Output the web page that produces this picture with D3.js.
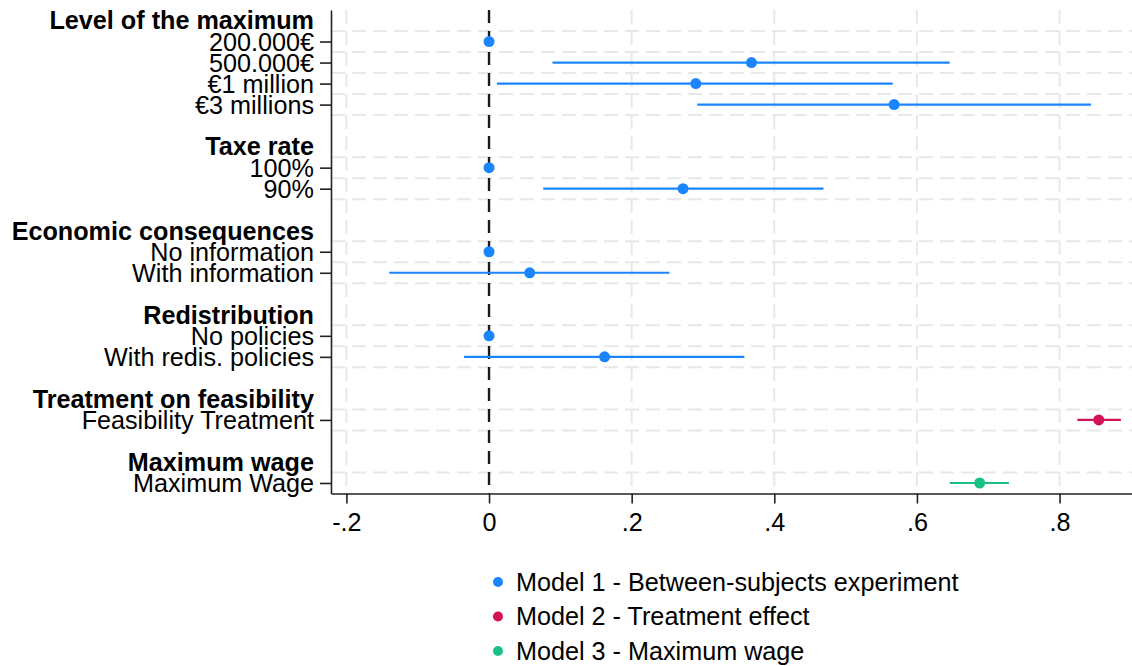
<!DOCTYPE html>
<html>
<head>
<meta charset="utf-8">
<title>Coefficient plot</title>
<script src="https://d3js.org/d3.v7.min.js"></script>
<style>
  body { margin: 0; background: #fff; }
  text { font-family: "Liberation Sans", Arial, sans-serif; fill: #000; }
  .grid line { stroke: #e8e8e8; stroke-width: 2; stroke-dasharray: 14 7; }
  .axis path, .axis line { stroke: #222; stroke-width: 1.6; }
</style>
</head>
<body>
<script>
// group headers and the coefficients listed under each one
var headers = ["Level of the maximum", "Taxe rate", "Economic consequences",
               "Redistribution", "Treatment on feasibility", "Maximum wage"];
var groupItems = [
  ["200.000€", "500.000€", "€1 million", "€3 millions"],
  ["100%", "90%"],
  ["No information", "With information"],
  ["No policies", "With redis. policies"],
  ["Feasibility Treatment"],
  ["Maximum Wage"]
];
// point estimates and 95% intervals, in the order the items are listed
var estimates = [0, 0.368, 0.290, 0.568, 0, 0.272, 0, 0.057, 0, 0.162, 0.855, 0.688];
var ciLow     = [null, 0.089, 0.011, 0.292, null, 0.076, null, -0.140, null, -0.035, 0.825, 0.646];
var ciHigh    = [null, 0.646, 0.566, 0.844, null, 0.469, null, 0.253, null, 0.358, 0.886, 0.729];
var modelOf   = [0, 0, 0, 0, 0, 0, 0, 0, 0, 0, 1, 2];
var modelNames = ["Model 1 - Between-subjects experiment", "Model 2 - Treatment effect", "Model 3 - Maximum wage"];
var modelColors = ["#1a85ff", "#d41159", "#19c284"];
var xTicks = [-0.2, 0, 0.2, 0.4, 0.6, 0.8];
var xTickLabels = ["-.2", "0", ".2", ".4", ".6", ".8"];

var W = 1132, H = 666;
var fontSize = 25.2;

// lay the rows out: header, items, blank spacer
var headerRows = [], coefs = [], row = 0, k = 0;
headers.forEach(function(h, g) {
  headerRows.push({label: h, row: row});
  row++;
  groupItems[g].forEach(function(lab) {
    coefs.push({label: lab, row: row, b: estimates[k], lo: ciLow[k], hi: ciHigh[k], m: modelOf[k]});
    row++; k++;
  });
  row++;
});
var lastRow = row - 2;

var x = d3.scaleLinear().domain([-0.2216, 0.9016]).range([331, W]);
var y = d3.scaleLinear().domain([-0.5, lastRow + 0.5]).range([10, 493.5]);

var svg = d3.select("body").append("svg")
    .attr("width", W).attr("height", H);

// horizontal grid: edges of every coefficient row
var hLines = [];
coefs.forEach(function(c) {
  [c.row - 0.5, c.row + 0.5].forEach(function(v) {
    if (hLines.indexOf(v) < 0 && v < lastRow + 0.5) hLines.push(v);
  });
});
var grid = svg.append("g").attr("class", "grid");
grid.selectAll(".h").data(hLines).enter().append("line")
    .attr("x1", x.range()[0]).attr("x2", W)
    .attr("y1", function(d) { return y(d); }).attr("y2", function(d) { return y(d); });
grid.selectAll(".v").data(xTicks.filter(function(d) { return d !== 0; })).enter().append("line")
    .attr("x1", function(d) { return x(d); }).attr("x2", function(d) { return x(d); })
    .attr("y1", y.range()[0]).attr("y2", y.range()[1]);

// reference line at zero
svg.append("line")
    .attr("x1", x(0)).attr("x2", x(0))
    .attr("y1", y.range()[0]).attr("y2", y.range()[1])
    .style("stroke", "#1a1a1a").style("stroke-width", 2.4)
    .style("stroke-dasharray", "13 8");

// axes
var xAxis = d3.axisBottom(x).tickValues(xTicks)
    .tickFormat(function(d, i) { return xTickLabels[i]; })
    .tickSize(10).tickSizeOuter(0).tickPadding(10);
var gx = svg.append("g").attr("class", "axis")
    .attr("transform", "translate(0," + y.range()[1] + ")")
    .call(xAxis);
gx.selectAll("text").style("font-size", fontSize + "px");

var yAxis = d3.axisLeft(y).tickValues(coefs.map(function(c) { return c.row; }))
    .tickFormat(function(d) { return coefs.filter(function(c) { return c.row === d; })[0].label; })
    .tickSize(11).tickSizeOuter(0).tickPadding(6);
var gy = svg.append("g").attr("class", "axis")
    .attr("transform", "translate(" + x.range()[0] + ",0)")
    .call(yAxis);
gy.selectAll("text").style("font-size", fontSize + "px").attr("dy", "0.35em");

svg.selectAll(".header").data(headerRows).enter().append("text")
    .attr("class", "header")
    .attr("x", 314).attr("y", function(d) { return y(d.row); })
    .attr("dy", "0.35em")
    .attr("text-anchor", "end")
    .style("font-size", fontSize + "px").style("font-weight", "bold")
    .text(function(d) { return d.label; });

// intervals and points
var marks = svg.append("g");
marks.selectAll(".ci").data(coefs.filter(function(c) { return c.lo !== null; })).enter().append("line")
    .attr("x1", function(d) { return x(d.lo); }).attr("x2", function(d) { return x(d.hi); })
    .attr("y1", function(d) { return y(d.row); }).attr("y2", function(d) { return y(d.row); })
    .style("stroke", function(d) { return modelColors[d.m]; })
    .style("stroke-width", 2.2);
marks.selectAll(".pt").data(coefs).enter().append("circle")
    .attr("cx", function(d) { return x(d.b); }).attr("cy", function(d) { return y(d.row); })
    .attr("r", 5.5)
    .style("fill", function(d) { return modelColors[d.m]; });

// legend
var legend = svg.append("g").attr("transform", "translate(498,582)");
var li = legend.selectAll("g").data(modelNames).enter().append("g")
    .attr("transform", function(d, i) { return "translate(0," + (i * 34.5) + ")"; });
li.append("circle").attr("r", 5)
    .style("fill", function(d, i) { return modelColors[i]; });
li.append("text").attr("x", 18).attr("dy", "0.35em")
    .style("font-size", fontSize + "px")
    .text(function(d) { return d; });
</script>
</body>
</html>
